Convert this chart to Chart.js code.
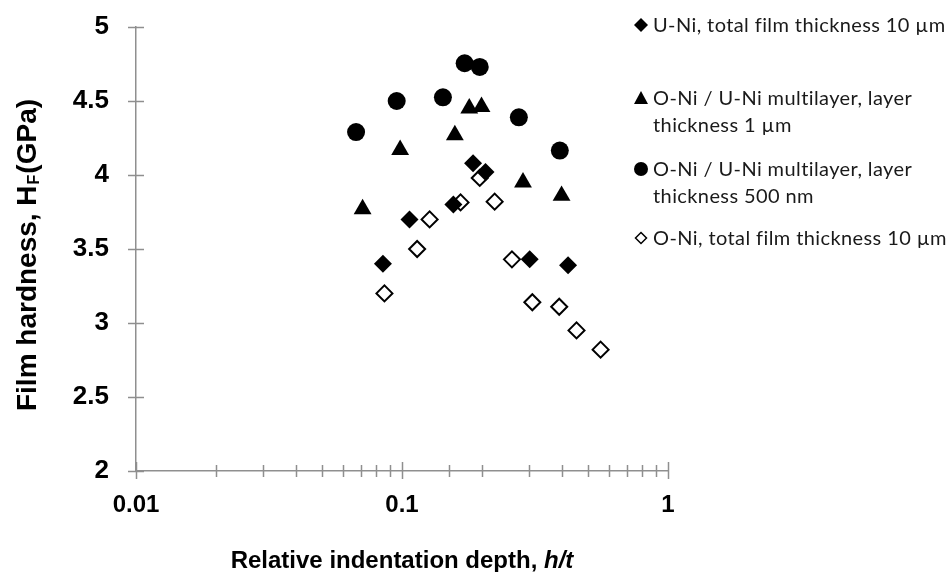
<!DOCTYPE html>
<html>
<head>
<meta charset="utf-8">
<script src="https://cdn.jsdelivr.net/npm/chart.js@4"></script>
<style>
  body { margin: 0; background: #fff; }
  #wrap { position: relative; width: 952px; height: 572px; }
  #legend { position: absolute; left: 0; top: 0; font-family: Lato, "Open Sans", sans-serif; font-size: 20px; letter-spacing: 0.4px; color: #1a1a1a; line-height: 27px; }
  .item { position: absolute; left: 653px; white-space: nowrap; }
  .mk { position: absolute; left: -19px; top: 7px; width: 14px; height: 14px; }
  .mk svg { display: block; }
</style>
</head>
<body>
<div id="wrap">
  <canvas id="chart" width="952" height="572"></canvas>
  <div id="legend"></div>
</div>
<script>
// ───── data ─────
const seriesNames = [
    'U-Ni, total film thickness 10 µm',
    'O-Ni / U-Ni multilayer, layer<br>thickness 1 µm',
    'O-Ni / U-Ni multilayer, layer<br>thickness 500 nm',
    'O-Ni, total film thickness 10 µm'
];

// U-Ni (filled diamond)
const uNiX = [0.0848, 0.1067, 0.156, 0.185, 0.206, 0.302, 0.421];
const uNiY = [3.40, 3.70, 3.80, 4.08, 4.02, 3.43, 3.39];

// multilayer 1 µm (triangle)
const ml1umX = [0.0711, 0.0984, 0.158, 0.179, 0.199, 0.285, 0.398];
const ml1umY = [3.77, 4.17, 4.27, 4.45, 4.46, 3.95, 3.86];

// multilayer 500 nm (circle)
const ml500X = [0.0672, 0.0955, 0.1425, 0.172, 0.196, 0.275, 0.392];
const ml500Y = [4.29, 4.50, 4.525, 4.755, 4.73, 4.39, 4.165];

// O-Ni (open diamond)
const oNiX = [0.0859, 0.114, 0.127, 0.166, 0.196, 0.223, 0.259, 0.309, 0.39, 0.453, 0.558];
const oNiY = [3.20, 3.50, 3.70, 3.815, 3.98, 3.82, 3.43, 3.14, 3.11, 2.95, 2.82];

const xMin = 0.01, xMax = 1;
const yMin = 2, yMax = 5, yStep = 0.5;

const toPts = (xs, ys) => xs.map((x, i) => ({ x: x, y: ys[i] }));

// ───── legend (html) ─────
const legendRows = [
    { top: 11, svg: '<polygon points="7,0 14,7 7,14 0,7" fill="#000"/>' },
    { top: 84, svg: '<polygon points="7,0 14,13 0,13" fill="#000"/>' },
    { top: 155, svg: '<circle cx="7" cy="7" r="7" fill="#000"/>' },
    { top: 224, svg: '<polygon points="7,1.5 12.5,7 7,12.5 1.5,7" fill="#fff" stroke="#000" stroke-width="1.5"/>' }
];
document.getElementById('legend').innerHTML = legendRows.map((r, i) =>
    `<div class="item" style="top:${r.top}px"><span class="mk"><svg width="14" height="14">${r.svg}</svg></span>${seriesNames[i]}</div>`
).join('');

// ───── axis ticks crossing the axis lines + axis titles ─────
const axisColor = '#8f8f8f';
const titleFont = '"Liberation Sans", Arial, sans-serif';

const decorPlugin = {
    id: 'decor',
    afterDraw(chart) {
        const ctx = chart.ctx;
        const xs = chart.scales.x, ys = chart.scales.y;
        const area = chart.chartArea;
        ctx.save();
        ctx.strokeStyle = axisColor;
        ctx.lineWidth = 1.5;
        ctx.beginPath();
        ys.ticks.forEach(t => {
            const py = Math.round(ys.getPixelForValue(t.value)) + 0.5;
            ctx.moveTo(area.left - 8, py);
            ctx.lineTo(area.left + 8, py);
        });
        xs.ticks.forEach(t => {
            const px = Math.round(xs.getPixelForValue(t.value)) + 0.5;
            const major = Math.abs(Math.log10(t.value) - Math.round(Math.log10(t.value))) < 1e-6;
            const up = major ? 9 : 6, down = major ? 8 : 6;
            ctx.moveTo(px, area.bottom - up);
            ctx.lineTo(px, area.bottom + down);
        });
        ctx.stroke();

        // x title
        ctx.fillStyle = '#000';
        ctx.textBaseline = 'alphabetic';
        ctx.textAlign = 'left';
        const a = 'Relative indentation depth, ', b = 'h/t';
        ctx.font = 'bold 24px ' + titleFont;
        const wa = ctx.measureText(a).width;
        ctx.font = 'italic bold 24px ' + titleFont;
        const wb = ctx.measureText(b).width;
        const cx = (area.left + area.right) / 2;
        let x0 = cx - (wa + wb) / 2;
        ctx.font = 'bold 24px ' + titleFont;
        ctx.fillText(a, x0, 568);
        ctx.font = 'italic bold 24px ' + titleFont;
        ctx.fillText(b, x0 + wa, 568);

        // y title, rotated, with subscript F
        const p1 = 'Film hardness, H', p2 = 'F', p3 = '(GPa)';
        const big = 'bold 28px ' + titleFont, small = 'bold 16px ' + titleFont;
        ctx.font = big;
        const w1 = ctx.measureText(p1).width, w3 = ctx.measureText(p3).width;
        ctx.font = small;
        const w2 = ctx.measureText(p2).width;
        ctx.translate(36, 256);
        ctx.rotate(-Math.PI / 2);
        let s = -(w1 + w2 + w3) / 2;
        ctx.font = big;
        ctx.fillText(p1, s, 0);
        ctx.font = small;
        ctx.fillText(p2, s + w1 + 1, 3);
        ctx.font = big;
        ctx.fillText(p3, s + w1 + w2 + 2, 0);
        ctx.restore();
    }
};

// ───── chart ─────
const ctx = document.getElementById('chart').getContext('2d');
new Chart(ctx, {
    type: 'scatter',
    data: {
        datasets: [
            {
                label: 'U-Ni',
                data: toPts(uNiX, uNiY),
                pointStyle: 'rectRot',
                pointRadius: 9,
                backgroundColor: '#000',
                borderColor: '#000',
                borderWidth: 0
            },
            {
                label: 'ML 1um',
                data: toPts(ml1umX, ml1umY),
                pointStyle: 'triangle',
                pointRadius: 10.3,
                backgroundColor: '#000',
                borderColor: '#000',
                borderWidth: 0
            },
            {
                label: 'ML 500nm',
                data: toPts(ml500X, ml500Y),
                pointStyle: 'circle',
                pointRadius: 9,
                backgroundColor: '#000',
                borderColor: '#000',
                borderWidth: 0
            },
            {
                label: 'O-Ni',
                data: toPts(oNiX, oNiY),
                pointStyle: 'rectRot',
                pointRadius: 8,
                backgroundColor: '#fff',
                borderColor: '#000',
                borderWidth: 2
            }
        ]
    },
    options: {
        responsive: false,
        animation: false,
        devicePixelRatio: 1,
        layout: { padding: { top: 27, right: 284, left: 0, bottom: 0 } },
        plugins: { legend: { display: false }, tooltip: { enabled: false } },
        scales: {
            x: {
                type: 'logarithmic',
                min: xMin,
                max: xMax,
                grid: { display: false },
                border: { display: true, color: axisColor, width: 1.5 },
                afterFit: s => { s.height = 101; },
                ticks: {
                    autoSkip: false,
                    maxRotation: 0,
                    padding: 12,
                    color: '#000',
                    font: { family: titleFont, size: 24, weight: 'bold' },
                    callback: v => {
                        const l = Math.log10(v);
                        return Math.abs(l - Math.round(l)) < 1e-6 ? String(v) : '';
                    }
                }
            },
            y: {
                min: yMin,
                max: yMax,
                grid: { display: false, tickLength: 27 },
                border: { display: true, color: axisColor, width: 1.5 },
                afterFit: s => { s.width = 136; },
                ticks: {
                    stepSize: yStep,
                    padding: 0,
                    color: '#000',
                    font: { family: titleFont, size: 26, weight: 'bold' },
                    callback: v => String(v)
                }
            }
        }
    },
    plugins: [decorPlugin]
});
</script>
</body>
</html>
